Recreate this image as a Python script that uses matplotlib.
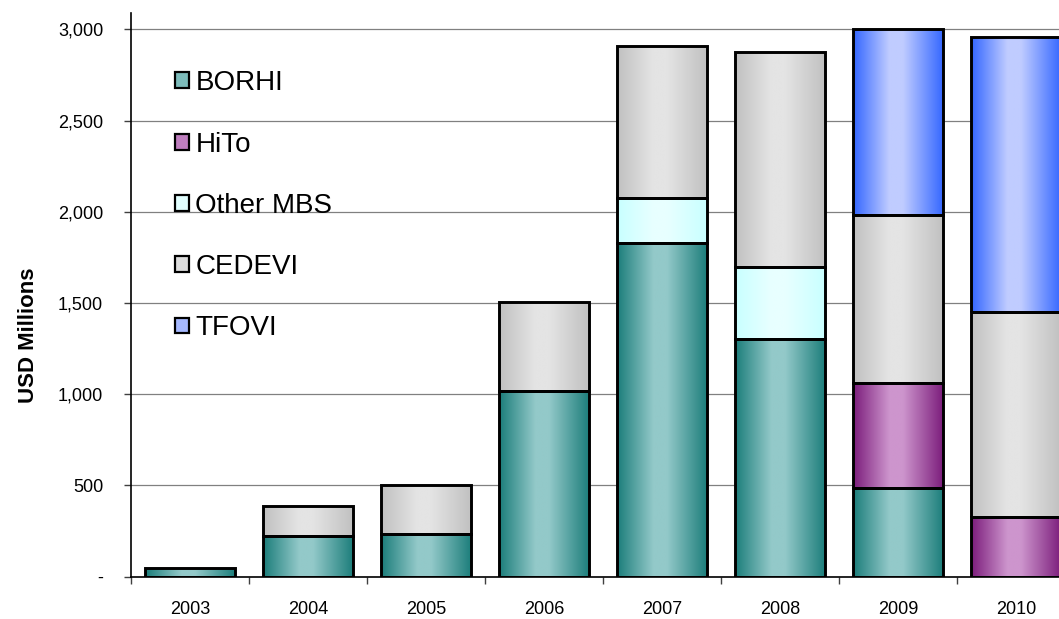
import numpy as np
import matplotlib
matplotlib.use("Agg")
import matplotlib.pyplot as plt
from matplotlib.patches import Patch
from matplotlib.ticker import FixedLocator, FuncFormatter

plt.rcParams['font.family'] = ['Liberation Sans', 'DejaVu Sans']

## data (USD millions)
years = ['2003', '2004', '2005', '2006', '2007', '2008', '2009', '2010']
borhi = [50, 221, 235, 1020, 1828, 1303, 484, 0]
hito = [0, 0, 0, 0, 0, 0, 577, 330]
other_mbs = [0, 0, 0, 0, 247, 395, 0, 0]
cedevi = [0, 165, 265, 484, 834, 1177, 922, 1123]
tfovi = [0, 0, 0, 0, 0, 0, 1017, 1504]

series = [
    ('BORHI', borhi, '#1b7d7a', '#93c9c9'),
    ('HiTo', hito, '#7b1c7b', '#cd95cd'),
    ('Other MBS', other_mbs, '#c8ffff', '#e8ffff'),
    ('CEDEVI', cedevi, '#c0c0c0', '#e4e4e4'),
    ('TFOVI', tfovi, '#3366ff', '#c0ccff'),
]

W, H = 1059, 619
fig = plt.figure(figsize=(W / 100, H / 100), dpi=100)
# plot area runs past the right edge, like the original (2010 bar is cut)
ax = fig.add_axes([131 / W, 1 - 576.7 / H, 944 / W, 564 / H])


def gradient(dark, light, n=200):
    t = np.linspace(0, 1, n)
    f = np.clip(np.minimum(t / 0.4, (1 - t) / 0.45), 0, 1)
    d = np.array(matplotlib.colors.to_rgb(dark))
    l = np.array(matplotlib.colors.to_rgb(light))
    return (d[None, :] * (1 - f[:, None]) + l[None, :] * f[:, None])[None, :, :]


x = np.arange(len(years))
bottom = np.zeros(len(years))
handles = []
for name, vals, dark, light in series:
    vals = np.array(vals, dtype=float)
    keep = vals > 0
    bars = ax.bar(x[keep], vals[keep], width=0.77, bottom=bottom[keep],
                  facecolor='none', edgecolor='black', linewidth=2.1, zorder=3)
    img = gradient(dark, light)
    for b in bars:
        bx, by, bw, bh = b.get_x(), b.get_y(), b.get_width(), b.get_height()
        im = ax.imshow(img, extent=[bx, bx + bw, by, by + bh], aspect='auto',
                       interpolation='bilinear', zorder=2)
        im.set_clip_path(b)
    bottom = bottom + vals
    mid = gradient(dark, light, 5)[0]
    handles.append(Patch(facecolor=(mid[1] + mid[2]) / 2, edgecolor='black',
                         linewidth=1.6, label=name))

ax.set_xlim(-0.5, len(years) - 0.5)
ax.set_ylim(0, 3092)

# axis formatting
for s in ['top', 'right']:
    ax.spines[s].set_visible(False)
ax.spines['left'].set_linewidth(1.2)
ax.spines['bottom'].set_linewidth(1.2)

ax.yaxis.set_major_locator(FixedLocator([0, 500, 1000, 1500, 2000, 2500, 3000]))
ax.yaxis.set_major_formatter(FuncFormatter(lambda v, p: '-' if v == 0 else f'{int(v):,}'))
ax.grid(axis='y', color='#808080', linewidth=0.9, zorder=0)
ax.set_axisbelow(True)
ax.tick_params(axis='y', length=5, width=1, color='#404040', pad=15, labelsize=13)

ax.xaxis.set_major_locator(FixedLocator(np.arange(len(years) + 1) - 0.5))
ax.xaxis.set_minor_locator(FixedLocator(x))
ax.xaxis.set_major_formatter(FuncFormatter(lambda v, p: ''))
ax.xaxis.set_minor_formatter(FuncFormatter(lambda v, p: years[int(round(v))]))
ax.tick_params(axis='x', which='major', length=5, width=1, color='#404040')
ax.tick_params(axis='x', which='minor', length=0, pad=17.5, labelsize=13)

fig.text(28 / W, 1 - 335 / H, 'USD Millions', rotation=90, fontsize=16,
         fontweight='bold', ha='center', va='center')

ax.legend(handles=handles, loc='upper left', bbox_to_anchor=(0.047, 0.898),
          frameon=False, fontsize=20, handlelength=0.5, handleheight=0.5,
          handletextpad=0.22, labelspacing=1.27, borderpad=0, borderaxespad=0)

fig.savefig('out.png', dpi=100)
